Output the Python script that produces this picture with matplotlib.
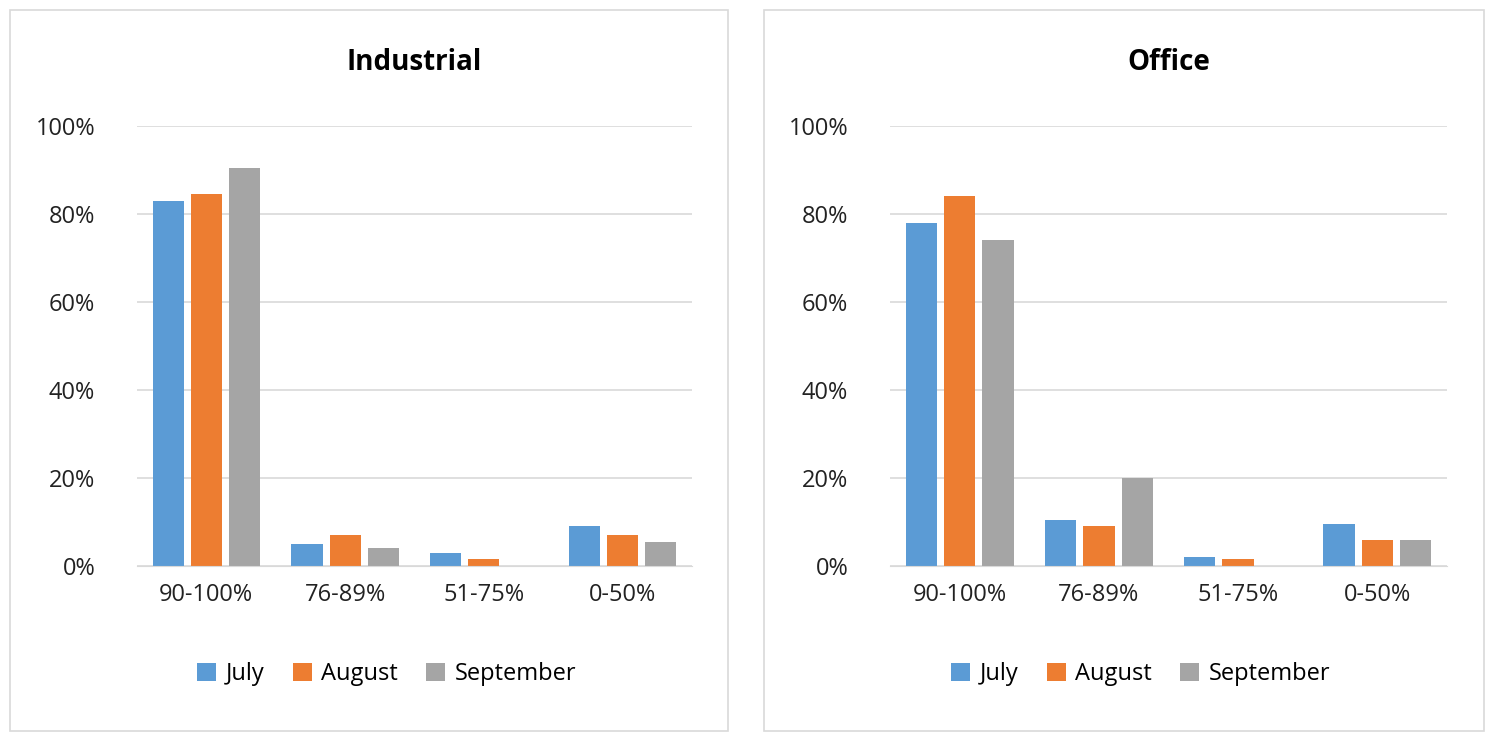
import matplotlib.pyplot as plt
from matplotlib.patches import Rectangle
import numpy as np

categories = ["90-100%", "76-89%", "51-75%", "0-50%"]
months = ["July", "August", "September"]
industrial = {
    "July": [83, 5, 3, 9],
    "August": [84.5, 7, 1.5, 7],
    "September": [90.5, 4, 0, 5.5],
}
office = {
    "July": [78, 10.5, 2, 9.5],
    "August": [84, 9, 1.5, 6],
    "September": [74, 20, 0, 6],
}
colors = ["#5B9BD5", "#ED7D31", "#A5A5A5"]

plt.rcParams["font.family"] = "Open Sans"
W, H = 1494, 738
fig = plt.figure(figsize=(W / 100, H / 100), dpi=100)

def panel(data, title, px0, px1, ax0, ax1):
    fig.patches.append(Rectangle((px0 / W, 1 - 731 / H), (px1 - px0) / W, 721 / H,
                                 transform=fig.transFigure, fill=False,
                                 edgecolor="#D9D9D9", linewidth=1.2))
    ax = fig.add_axes([ax0 / W, 1 - 566 / H, (ax1 - ax0) / W, 440 / H])
    x = np.arange(len(categories))
    for i, m in enumerate(months):
        ax.bar(x + (i - 1) * 0.275, data[m], width=0.225, color=colors[i], label=m, zorder=2)
    ax.set_xlim(-0.5, 3.5)
    ax.set_ylim(0, 100)
    ax.set_yticks(range(0, 101, 20))
    ax.set_yticklabels([f"{v}%" for v in range(0, 101, 20)])
    ax.set_xticks(x)
    ax.set_xticklabels(categories)
    ax.grid(axis="y", color="#D9D9D9", linewidth=1.2, zorder=0)
    for s in ["top", "right", "left"]:
        ax.spines[s].set_visible(False)
    ax.spines["bottom"].set_color("#D9D9D9")
    ax.tick_params(length=0, labelsize=17, colors="#222222", pad=12)
    ax.tick_params(axis="y", pad=30)
    ax.set_title(title, fontsize=20, fontweight="bold", pad=40)
    ax.legend(loc="upper center", bbox_to_anchor=(0.45, -0.17), ncol=3, frameon=False,
              fontsize=17, handlelength=0.8, handleheight=0.8, columnspacing=1.2,
              handletextpad=0.4)

panel(industrial, "Industrial", 10, 728, 137, 692)
panel(office, "Office", 764, 1484, 890, 1447)

fig.savefig("out.png", dpi=100)
